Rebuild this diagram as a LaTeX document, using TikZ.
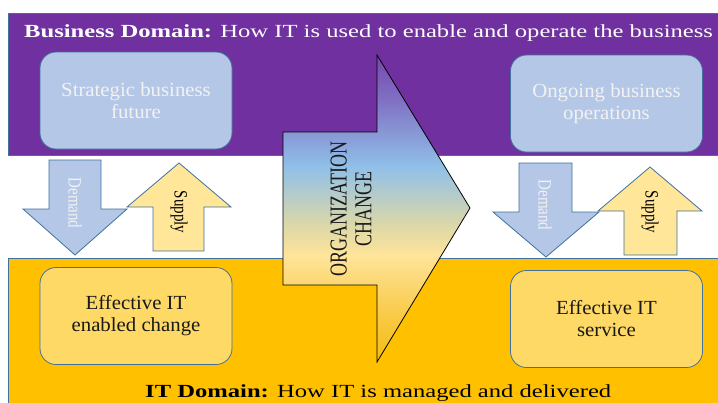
\documentclass[tikz,border=0pt]{standalone}
\usepackage{fontspec}
\setmainfont{Liberation Serif}
\newfontfamily\widefont[FakeStretch=1.33]{Liberation Serif}
\newfontfamily\boxfont[FakeStretch=1.04]{Liberation Serif}
\definecolor{bizpurple}{HTML}{7030A0}
\definecolor{itgold}{HTML}{FFC000}
\definecolor{edgeblue}{HTML}{41719C}
\definecolor{boxblue}{HTML}{B4C7E7}
\definecolor{boxyellow}{HTML}{FFD966}
\definecolor{supplyyellow}{HTML}{FFE699}
\definecolor{boxwhite}{HTML}{F2F2F2}
\definecolor{orgtop}{HTML}{7548AD}
\definecolor{orgviolet}{HTML}{8070C4}
\definecolor{orgblue}{HTML}{90C0E8}
\definecolor{orgbeige}{HTML}{DCD8A8}
\definecolor{orgcream}{HTML}{FFE49A}
\definecolor{orgyellow}{HTML}{F8C840}
\definecolor{orgbottom}{HTML}{F5BC10}
\pgfdeclareverticalshading{orgchange}{100bp}{color(0bp)=(orgbottom); color(25bp)=(orgbottom); color(31.8bp)=(orgyellow); color(42.4bp)=(orgcream); color(47.3bp)=(orgbeige); color(56.8bp)=(orgblue); color(67.7bp)=(orgviolet); color(75bp)=(orgtop); color(100bp)=(orgtop)}

\begin{document}
\begin{tikzpicture}[x=1pt, y=-1pt,
		band/.style={draw=edgeblue, line width=0.8pt},
		domainbox/.style={draw=edgeblue, line width=0.8pt, rounded corners=16pt, minimum width=192pt, minimum height=97pt, align=center, font=\boxfont\fontsize{20}{22}\selectfont},
		bluebox/.style={domainbox, fill=boxblue, text=boxwhite},
		yellowbox/.style={domainbox, fill=boxyellow, text=black!90},
		flowarrow/.style={draw=edgeblue, line width=0.8pt},
		flowlabel/.style={rotate=-90, inner sep=0pt, font=\fontsize{15}{17}\selectfont}]
			\useasboundingbox (0,0) rectangle (718,402);
			\fill[white] (0,0) rectangle (718,402);
			\draw[band, fill=bizpurple] (8,13) rectangle (722,155);
			\draw[band, fill=itgold] (8,258) rectangle (722,406);
			\node[anchor=base west, inner sep=0pt, text=white, font=\widefont\fontsize{18.5}{20}\selectfont] (bizTitle) at (24,37) {\textbf{Business Domain:} How IT is used to enable and operate the business};
			\node[anchor=base west, inner sep=0pt, text=black, font=\widefont\fontsize{18.5}{20}\selectfont] (itTitle) at (145,397) {\textbf{IT Domain:} How IT is managed and delivered};
			\node[bluebox] (strategic) at (136,100.5) {Strategic business\\future};
			\node[bluebox] (ongoing) at (606.5,103.5) {Ongoing business\\operations};
			\node[yellowbox] (enabled) at (136,316) {Effective IT\\enabled change};
			\node[yellowbox] (service) at (606.5,319) {Effective IT\\service};
			\draw[flowarrow, fill=boxblue] (49,160) -- (101,160) -- (101,209) -- (127,209) -- (75,255) -- (23,209) -- (49,209) -- cycle;
			\draw[flowarrow, fill=supplyyellow] (179,163) -- (231,207) -- (204,207) -- (204,251) -- (153,251) -- (153,207) -- (127,207) -- cycle;
			\draw[flowarrow, fill=boxblue] (519,163) -- (572,163) -- (572,212) -- (599,212) -- (546,257) -- (493,212) -- (519,212) -- cycle;
			\draw[flowarrow, fill=supplyyellow] (650,167) -- (702,211) -- (677,211) -- (677,255) -- (624,255) -- (624,211) -- (598,211) -- cycle;
			\node[flowlabel, text=boxwhite] (demandLeft) at (75,203) {\scalebox{1}[1.25]{Demand}};
			\node[flowlabel, text=black] (supplyLeft) at (179,212) {\scalebox{1}[1.25]{Supply}};
			\node[flowlabel, text=boxwhite] (demandRight) at (545,205) {\scalebox{1}[1.25]{Demand}};
			\node[flowlabel, text=black] (supplyRight) at (650,212) {\scalebox{1}[1.25]{Supply}};
			\draw[black, line width=0.8pt, shading=orgchange] (283,132) -- (377,132) -- (377,55) -- (470,208) -- (377,362) -- (377,285) -- (283,285) -- cycle;
			\node[rotate=90, inner sep=0pt, text=black!90, font=\fontsize{18}{18.5}\selectfont] (orgChange) at (354,209) {\scalebox{1}[1.35]{\begin{tabular}{@{}c@{}}ORGANIZATION\\CHANGE\end{tabular}}};
		\end{tikzpicture}
\end{document}
